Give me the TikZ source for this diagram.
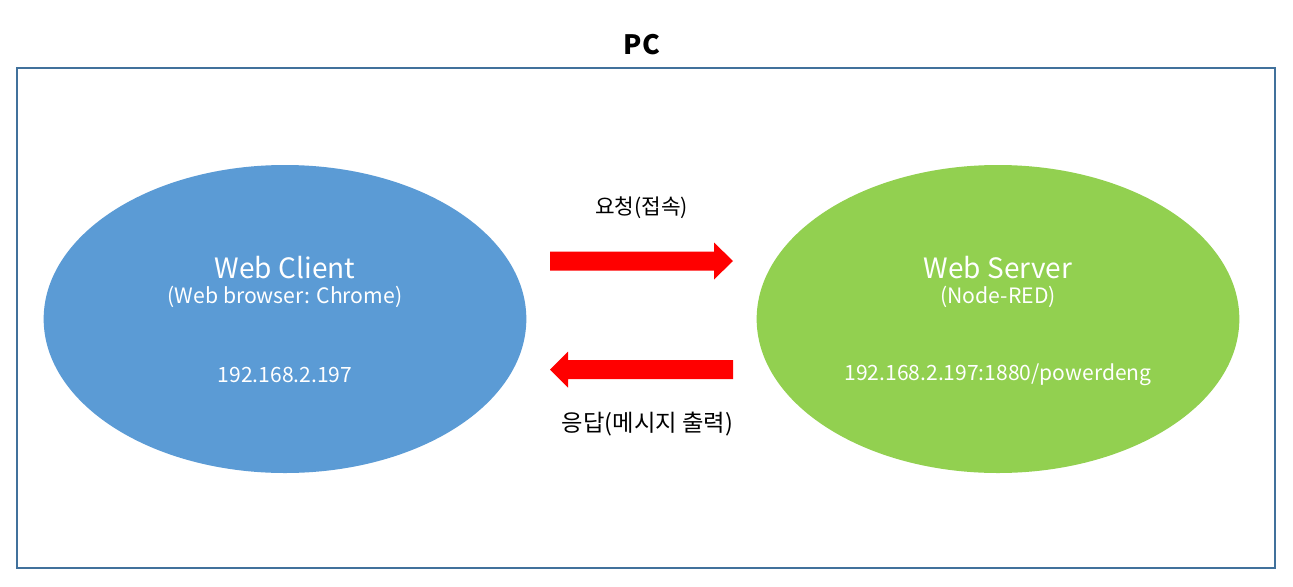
\documentclass[tikz,border=0pt]{standalone}
\usepackage{fontspec}
\setmainfont{Noto Sans CJK KR}
\usetikzlibrary{shapes.geometric}
\definecolor{frameblue}{HTML}{41719C}
\definecolor{clientblue}{HTML}{5B9BD5}
\definecolor{servergreen}{HTML}{92D050}
\definecolor{arrowred}{HTML}{FF0000}
\tikzset{
  px/.style={x=0.75pt,y=-0.75pt},
  blob/.style={ellipse, draw=none, minimum width=362pt, minimum height=231pt},
  titletext/.style={text=white, font=\fontsize{21}{24}\selectfont, inner sep=0pt},
  subtext/.style={text=white, font=\fontsize{15.9}{18}\selectfont, inner sep=0pt},
  iptext/.style={text=white, font=\fontsize{15.8}{18}\selectfont, inner sep=0pt},
  labeltext/.style={text=black, font=\fontsize{16}{18}\selectfont, inner sep=0pt},
  biglabeltext/.style={text=black, font=\fontsize{17.5}{20}\selectfont, inner sep=0pt},
  fatarrow/.style={fill=arrowred, draw=none}
}
\begin{document}
\begin{tikzpicture}[px]
\useasboundingbox (0,0) rectangle (1293,586);
\fill[white] (0,0) rectangle (1293,586);
% frame
\node[draw=frameblue, line width=1.5pt, minimum width=943.5pt, minimum height=375pt, inner sep=0pt] (pc) at (645.5,318) {};
\node[font=\bfseries\fontsize{20}{22}\selectfont, inner sep=0pt] (pclabel) at (642,45) {PC};
% ellipses
\node[blob, fill=clientblue] (client) at (285,319) {};
\node[blob, fill=servergreen] (server) at (998,319) {};
% client texts
\node[titletext] (ctitle) at (285,268) {Web Client};
\node[subtext] (csub) at (285,297) {(Web browser: Chrome)};
\node[iptext] (cip) at (285,375) {192.168.2.197};
% server texts
\node[titletext] (stitle) at (998,268) {Web Server};
\node[subtext] (ssub) at (998,297) {(Node-RED)};
\node[iptext] (sip) at (998,375) {192.168.2.197:1880/powerdeng};
% arrows
\fill[fatarrow] (550,251.5) -- (714,251.5) -- (714,242.5) -- (733,261) -- (714,279.5) -- (714,270.5) -- (550,270.5) -- cycle;
\fill[fatarrow] (733,360) -- (568,360) -- (568,351.5) -- (550,369.5) -- (568,387.5) -- (568,379) -- (733,379) -- cycle;
% labels
\node[labeltext] (req) at (641.5,208) {요청(접속)};
\node[biglabeltext] (resp) at (647.5,424) {응답(메시지 출력)};
\end{tikzpicture}
\end{document}
